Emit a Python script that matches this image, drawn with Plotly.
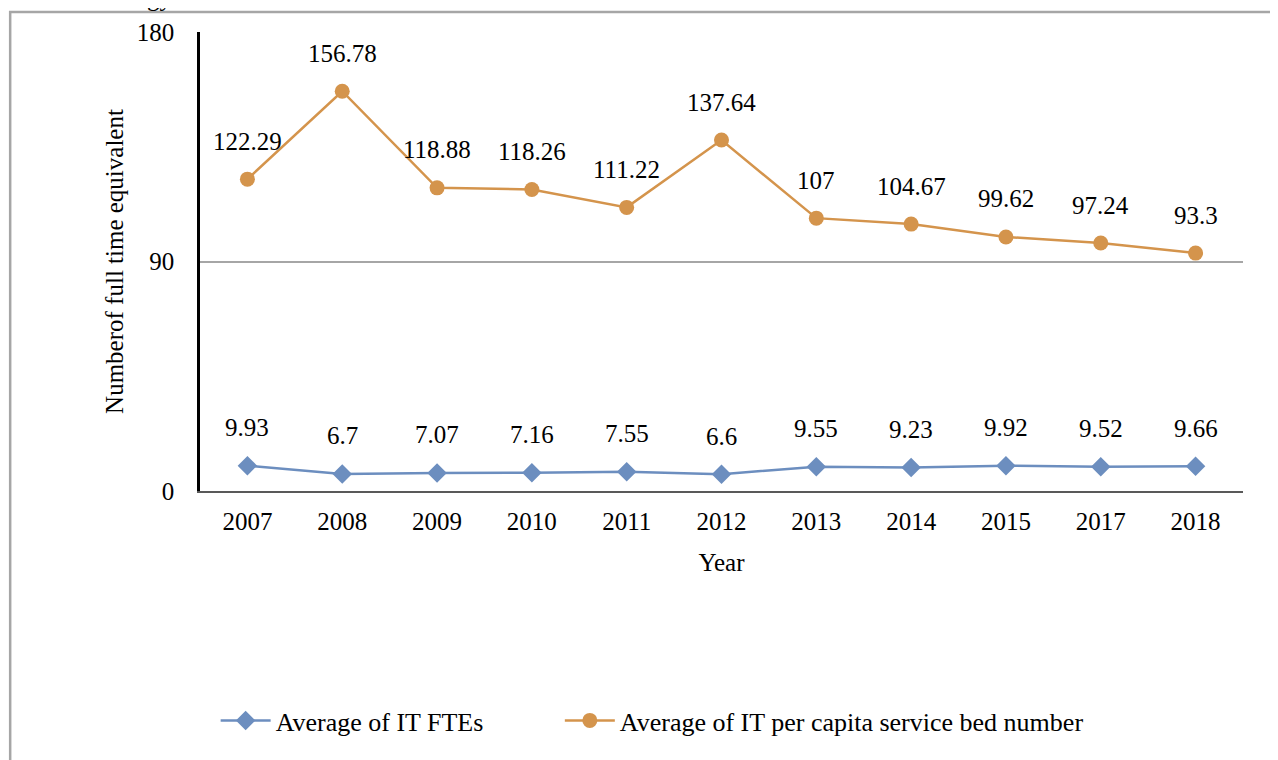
import plotly.graph_objects as go

years = ["2007", "2008", "2009", "2010", "2011", "2012", "2013", "2014", "2015", "2017", "2018"]
it_ftes = [9.93, 6.7, 7.07, 7.16, 7.55, 6.6, 9.55, 9.23, 9.92, 9.52, 9.66]
it_per_bed = [122.29, 156.78, 118.88, 118.26, 111.22, 137.64, 107, 104.67, 99.62, 97.24, 93.3]

blue = "#6C8EBF"
orange = "#D4944C"
font_family = "Liberation Serif"
fs = 25

fig = go.Figure()

fig.add_trace(go.Scatter(
    x=years, y=it_ftes, name="Average of IT FTEs",
    mode="lines+markers", legend="legend",
    line=dict(color=blue, width=2.5),
    marker=dict(symbol="diamond", size=15, color=blue),
))
fig.add_trace(go.Scatter(
    x=years, y=it_per_bed, name="Average of IT per capita service bed number",
    mode="lines+markers", legend="legend2",
    line=dict(color=orange, width=2.5),
    marker=dict(symbol="circle", size=15, color=orange),
))

# data labels above each point (x given as category index)
annotations = []
for series in (it_ftes, it_per_bed):
    for i, v in enumerate(series):
        annotations.append(dict(
            x=i, y=v, xref="x", yref="y", text=f"{v:g}", showarrow=False,
            yshift=38, font=dict(family=font_family, size=fs, color="#000000"),
        ))

# clipped caption fragment above the frame
annotations.append(dict(
    x=-0.024, y=1.042, xref="paper", yref="paper", text="gy", showarrow=False,
    xanchor="right", yanchor="bottom",
    font=dict(family=font_family, size=fs, color="#000000"),
))

legend_style = dict(
    orientation="h", yanchor="middle", xanchor="left", y=-0.5,
    font=dict(family=font_family, size=26), bgcolor="rgba(0,0,0,0)",
    itemwidth=50,
)

fig.update_layout(
    width=1270, height=752,
    margin=dict(l=192, r=35, t=24, b=269),
    paper_bgcolor="white", plot_bgcolor="white",
    font=dict(family=font_family, size=fs, color="#000000"),
    showlegend=True,
    legend=dict(legend_style, x=0.015),
    legend2=dict(legend_style, x=0.345),
    annotations=annotations,
    shapes=[dict(
        type="rect", xref="paper", yref="paper",
        x0=-0.182, x1=1.06, y0=-0.62, y1=1.0436,
        line=dict(color="#A6A6A6", width=2.5), layer="below",
    )],
)

fig.update_xaxes(
    type="category", range=[-0.5, 10.5],
    showline=True, linecolor="#595959", linewidth=2,
    showgrid=False, ticks="", ticklen=0, ticklabelstandoff=7,
    tickfont=dict(family=font_family, size=fs),
    title=dict(text="Year", font=dict(family=font_family, size=fs), standoff=19),
)
fig.update_yaxes(
    range=[0, 180], tickvals=[0, 90, 180],
    showline=True, linecolor="#000000", linewidth=2.5,
    showgrid=True, gridcolor="#A6A6A6", gridwidth=2,
    zeroline=False, ticks="", ticklabelstandoff=18,
    tickfont=dict(family=font_family, size=fs),
    title=dict(text="Numberof full time equivalent", font=dict(family=font_family, size=fs), standoff=7),
)

fig.write_html("out.html")
